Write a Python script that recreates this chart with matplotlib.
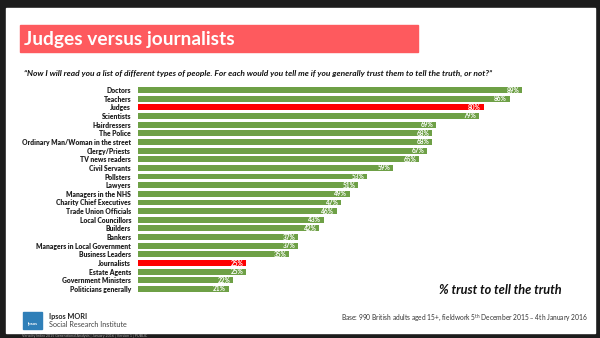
import matplotlib.pyplot as plt
from matplotlib.patches import Rectangle

categories = [
    "Doctors", "Teachers", "Judges", "Scientists", "Hairdressers", "The Police",
    "Ordinary Man/Woman in the street", "Clergy/Priests", "TV news readers",
    "Civil Servants", "Pollsters", "Lawyers", "Managers in the NHS",
    "Charity Chief Executives", "Trade Union Officials", "Local Councillors",
    "Builders", "Bankers", "Managers in Local Government", "Business Leaders",
    "Journalists", "Estate Agents", "Government Ministers", "Politicians generally",
]
values = [89, 86, 80, 79, 69, 68, 68, 67, 65, 59, 53, 51, 49, 47, 46, 43,
          42, 37, 37, 35, 25, 25, 22, 21]
highlight = ["Judges", "Journalists"]

GREEN = "#6ea046"
RED = "#fe0000"
FONT = ["Lato", "DejaVu Sans"]

W, H = 600, 338
fig = plt.figure(figsize=(6, 3.38), dpi=100)
fig.patch.set_facecolor("#1c1c1c")


def fx(px):
    return px / W


def fy(py):
    return 1 - py / H


# white slide
fig.patches.append(Rectangle((fx(6), fy(333)), fx(589), (333 - 8) / H,
                             transform=fig.transFigure, color="white", zorder=0))
# title banner
fig.patches.append(Rectangle((fx(20), fy(52)), fx(398), 27 / H,
                             transform=fig.transFigure, color="#fe5a5e", zorder=1))
fig.text(fx(24), fy(39), "Judges versus journalists", color="white",
         fontsize=13.8, fontweight="bold", family=FONT, va="center", ha="left")
fig.text(fx(24), fy(73),
         "\u201cNow I will read you a list of different types of people. For each would you "
         "tell me if you generally trust them to tell the truth, or not?\u201d",
         fontsize=6.0, fontweight="bold", style="italic", family=FONT,
         va="center", ha="left", color="#111111")

# bars
ax = fig.add_axes([fx(138), (H - 293.3) / H, 432 / W, 207.6 / H])
ax.set_zorder(5)
ax.set_facecolor("none")
ypos = list(range(len(categories)))
colors = [RED if c in highlight else GREEN for c in categories]
ax.barh(ypos, values, height=0.68, color=colors)
ax.set_xlim(0, 100)
ax.set_ylim(len(categories) - 0.5, -0.5)
ax.set_yticks(ypos)
ax.set_yticklabels(categories, fontsize=4.9, fontweight="heavy", family=FONT,
                   color="#222222")
ax.tick_params(axis="y", length=0, pad=5)
ax.set_xticks([])
for s in ax.spines.values():
    s.set_visible(False)
for y, v in zip(ypos, values):
    ax.text(v - 0.6, y, f"{v}%", color="white", fontsize=4.7, fontweight="bold",
            family=FONT, ha="right", va="center")

fig.text(fx(562), fy(290), "% trust to tell the truth", fontsize=9.2,
         fontweight="bold", style="italic", family=FONT, ha="right", va="center",
         color="#111111")
fig.text(fx(588), fy(318),
         "Base: 990 British adults aged 15+, fieldwork 5$^{\\mathregular{th}}$ December 2015 \u2013 4th January 2016",
         fontsize=4.8, family=FONT, ha="right", va="center", color="#333333")

# logo
fig.patches.append(Rectangle((fx(23), fy(329)), fx(19), 17 / H,
                             transform=fig.transFigure, color="#2f7fb8", zorder=2))
fig.text(fx(32.5), fy(324), "Ipsos", color="white", fontsize=3.2,
         fontweight="bold", family=FONT, ha="center", va="center")
fig.text(fx(49), fy(316), "Ipsos MORI", fontsize=5.2, fontweight="bold",
         family=FONT, ha="left", va="center", color="#222222")
fig.text(fx(49), fy(324.5), "Social Research Institute", fontsize=5.2,
         family=FONT, ha="left", va="center", color="#444444")

fig.text(fx(22), fy(336), "Veracity Index 2015 Generational Analysis | January 2016 | Version 1 | PUBLIC",
         fontsize=2.6, family=FONT, ha="left", va="center", color="#aaaaaa")

fig.savefig("out.png", dpi=100, facecolor=fig.get_facecolor())
